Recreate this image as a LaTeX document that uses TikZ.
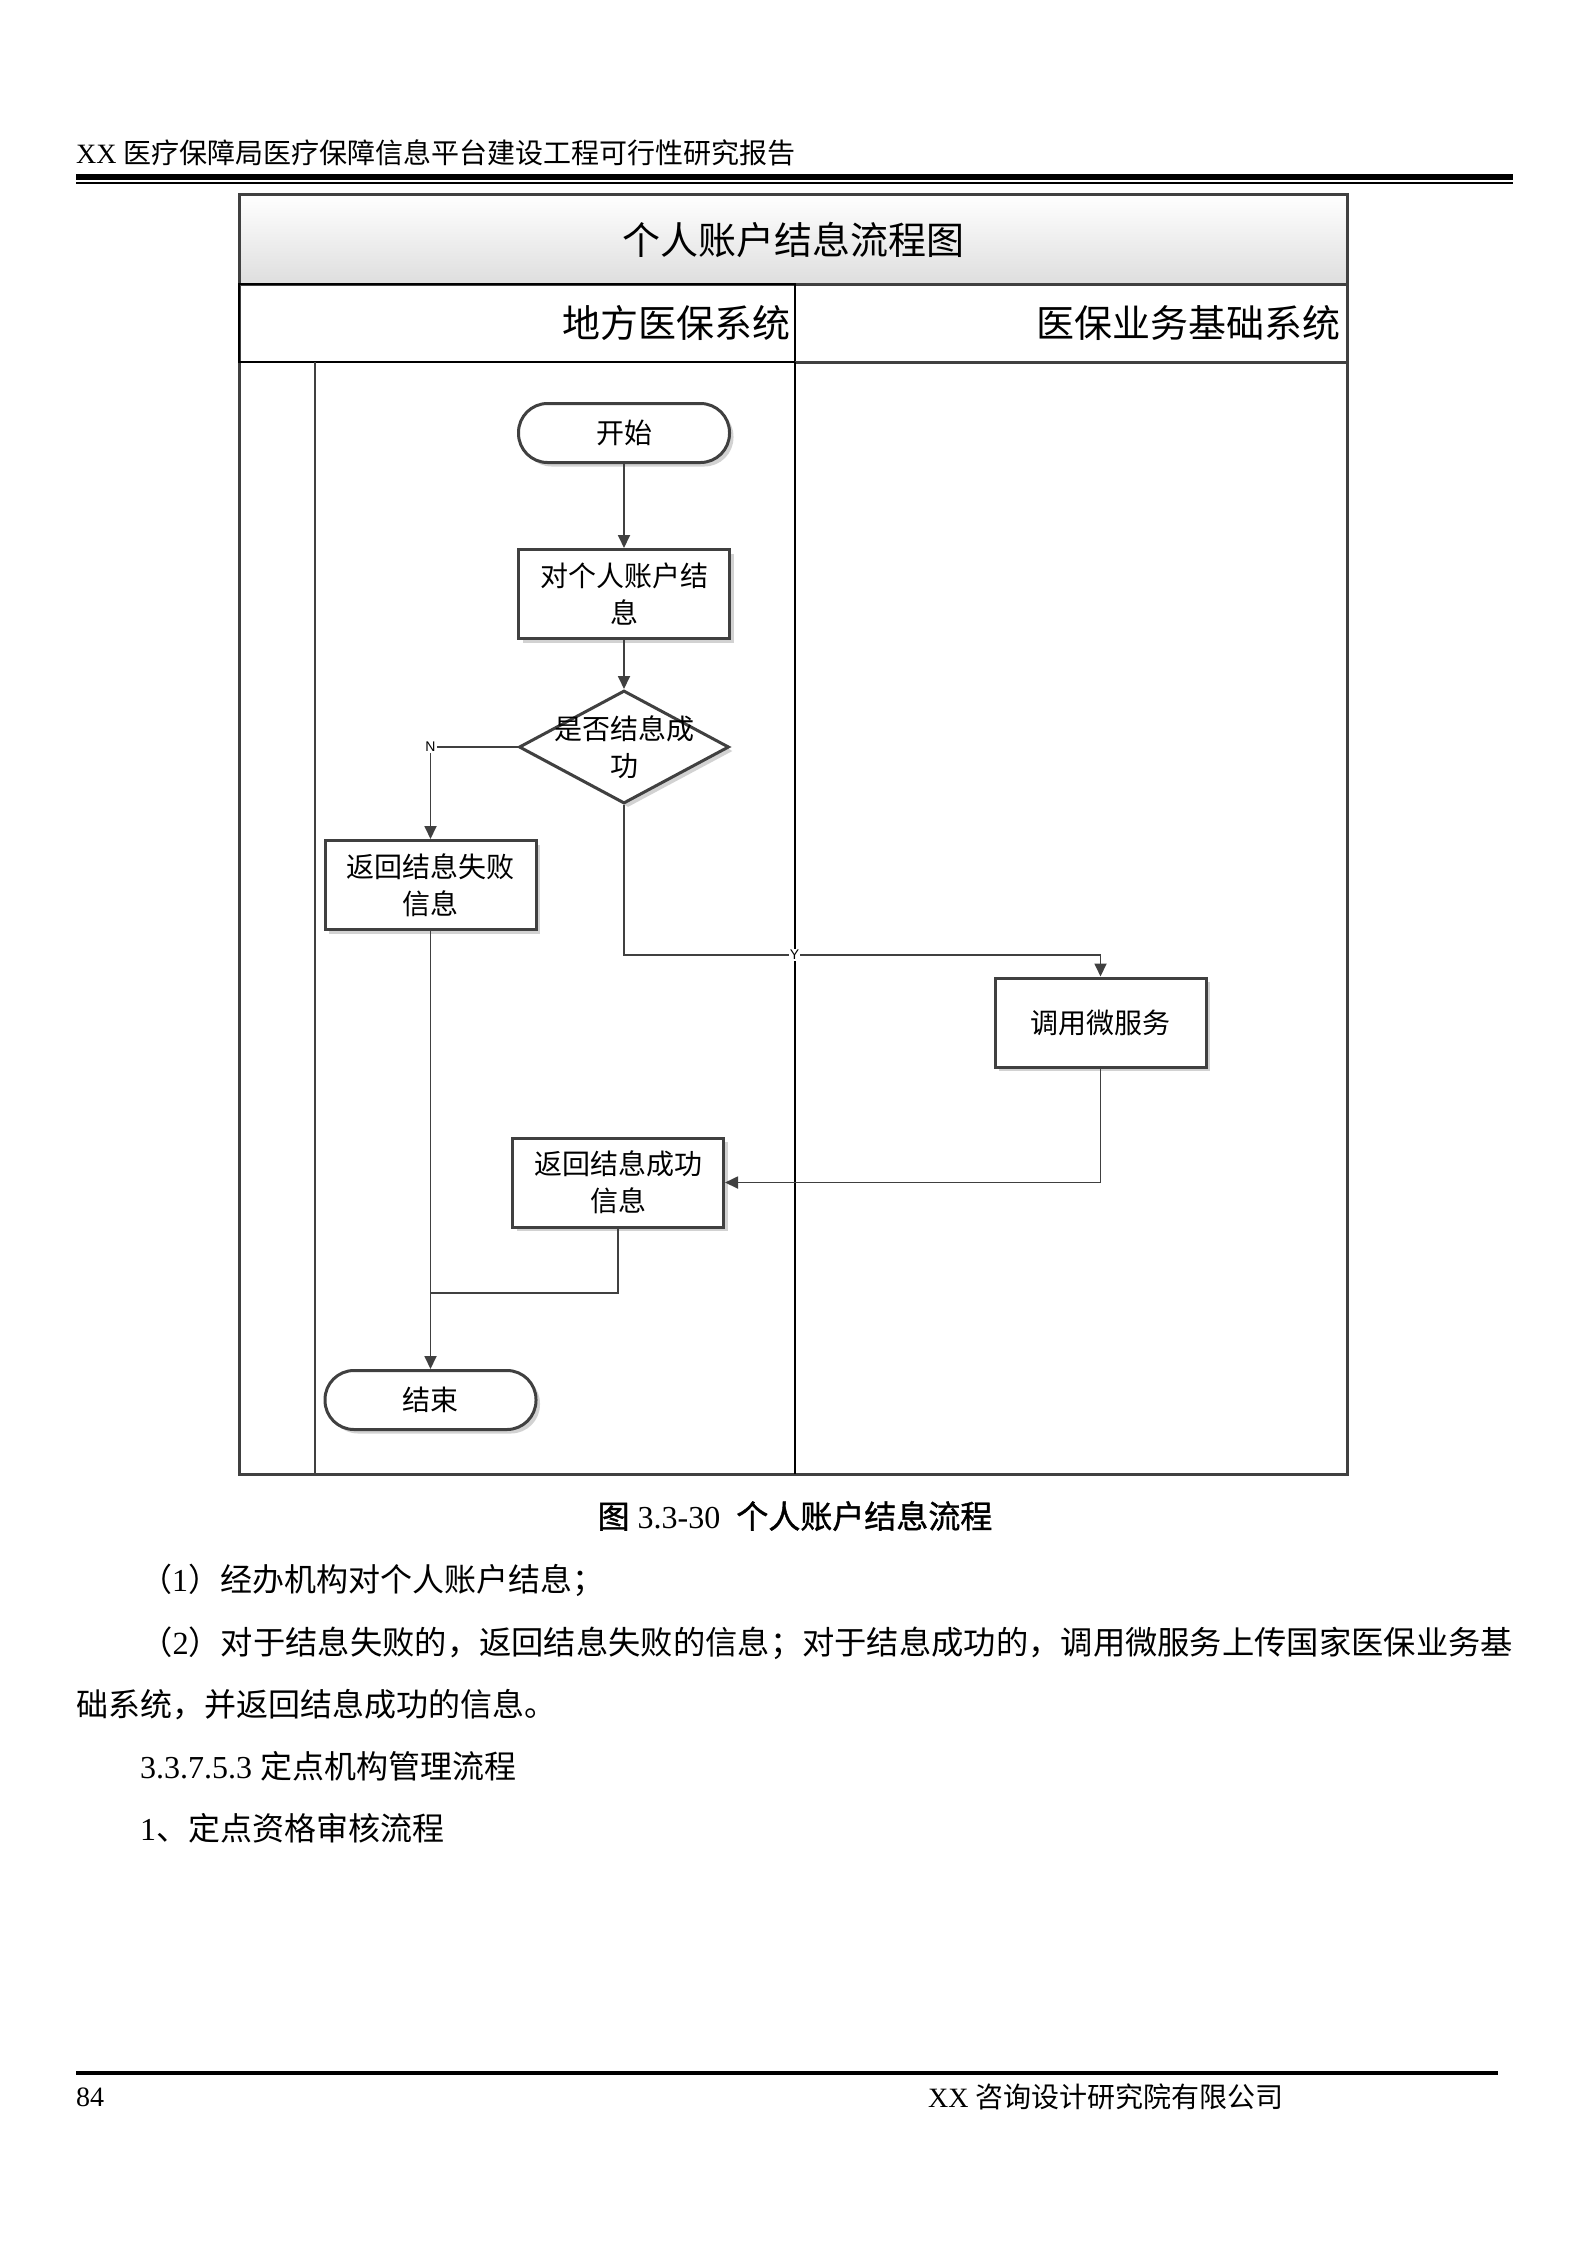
\documentclass[tikz,border=0pt]{standalone}
\usepackage{fontspec}
\setmainfont{Liberation Serif}
\newfontfamily\cjk{Noto Sans CJK SC}
\newfontfamily\cjkheavy[FakeBold=1.2]{Noto Sans CJK SC}
\newfontfamily\tagsans{Liberation Sans}
\newcommand\zh[1]{{\cjk #1}}
\usetikzlibrary{arrows.meta, positioning, calc, shapes.geometric, shadows}
\definecolor{lineDark}{HTML}{404040}

\begin{document}
\begin{tikzpicture}[
  x=1pt, y=-1pt,
  box/.style={draw=lineDark, line width=3pt, fill=white, align=center, minimum width=211pt, minimum height=89pt, inner sep=2pt, font=\cjk\fontsize{28}{37}\selectfont, drop shadow={shadow xshift=4pt, shadow yshift=-4pt, fill=black!35}},
  proc/.style={box, rectangle},
  term/.style={box, rectangle, rounded corners=29pt, minimum height=59pt},
  decide/.style={box, diamond, aspect=2, minimum width=210pt, minimum height=113pt, inner sep=-14pt},
  wire/.style={line width=1.8pt, draw=lineDark},
  flow/.style={wire, -{Triangle[length=13pt, width=12pt]}},
  tag/.style={font=\tagsans\fontsize{14}{14}\selectfont, fill=white, inner sep=1pt},
  lanehead/.style={anchor=east, inner sep=0pt, font=\cjk\fontsize{38}{44}\selectfont},
  bodytext/.style={anchor=west, inner sep=0pt, font=\fontsize{32}{40}\selectfont}
]
\useasboundingbox (0,0) rectangle (1588,2245);

% page header and footer
\node[anchor=west, inner sep=0pt, font=\fontsize{28}{34}\selectfont] (hdr) at (76,153) {XX \zh{医疗保障局医疗保障信息平台建设工程可行性研究报告}};
\draw[line width=6pt] (76,177) -- (1513,177);
\draw[line width=2pt] (76,183) -- (1513,183);
\draw[line width=4pt] (76,2073) -- (1498,2073);
\node[anchor=west, inner sep=0pt, font=\fontsize{28}{34}\selectfont] (pgno) at (76,2097) {84};
\node[anchor=west, inner sep=0pt, font=\fontsize{28}{34}\selectfont] (org) at (928,2097) {XX \zh{咨询设计研究院有限公司}};

% swimlane frame
\draw[lineDark, line width=3pt] (239,195) rectangle (1347,1474);
\node[draw=lineDark, line width=3pt, top color=white, bottom color=black!13, minimum width=1108pt, minimum height=89pt, font=\cjk\fontsize{38}{44}\selectfont] (title) at (793,239.5) {个人账户结息流程图};
\draw[black, line width=2.5pt] (239,284) rectangle (795,362);
\draw[lineDark, line width=3pt] (795,362) -- (1347,362);
\draw[lineDark, line width=2.5pt] (315,362) -- (315,1474);
\draw[black, line width=1.5pt] (795,362) -- (795,1474);
\node[lanehead] (laneL) at (791,323) {地方医保系统};
\node[lanehead] (laneR) at (1341,323) {医保业务基础系统};

% flow
\node[term] (start) at (624,433) {开始};
\node[proc, below=84pt of start] (acct) {对个人账户结\\息};
\node[decide] (check) at (624,747) {是否结息成\\功};
\node[proc] (fail) at (430.5,885) {返回结息失败\\信息};
\node[proc] (micro) at (1100.5,1022.5) {调用微服务};
\node[proc] (succ) at (618,1182.5) {返回结息成功\\信息};
\node[term] (fin) at (430.5,1400) {结束};

\coordinate (yBend) at (check.south |- 0,955);
\coordinate (mergeY) at (0,1293);
\coordinate (merge) at (fail.south |- mergeY);

\draw[flow] (start) -- (acct);
\draw[flow] (acct) -- (check);
\draw[flow] (check.west) -| node[tag, pos=0.5] (nTag) {N} (fail.north);
\draw[flow] (check.south) -- (yBend) -| node[tag, pos=0.179] (yTag) {Y} (micro.north);
\draw[flow] (micro.south) |- (succ.east);
\draw[wire] (succ.south) |- (merge);
\draw[flow] (fail) -- (fin);

% caption and text
\node[font=\fontsize{32}{38}\selectfont] (cap) at (795,1516) {{\cjkheavy 图} 3.3-30\hspace{8pt} {\cjkheavy 个人账户结息流程}};
\node[bodytext] (p1) at (140,1580) {\zh{（}1\zh{）经办机构对个人账户结息；}};
\node[bodytext, font=\fontsize{32.3}{40}\selectfont] (p2) at (140,1643) {\zh{（}2\zh{）对于结息失败的，返回结息失败的信息；对于结息成功的，调用微服务上传国家医保业务基}};
\node[bodytext] (p3) at (76,1705) {\zh{础系统，并返回结息成功的信息。}};
\node[bodytext] (p4) at (140,1766) {3.3.7.5.3 \zh{定点机构管理流程}};
\node[bodytext] (p5) at (140,1828) {1\zh{、定点资格审核流程}};
\end{tikzpicture}
\end{document}
